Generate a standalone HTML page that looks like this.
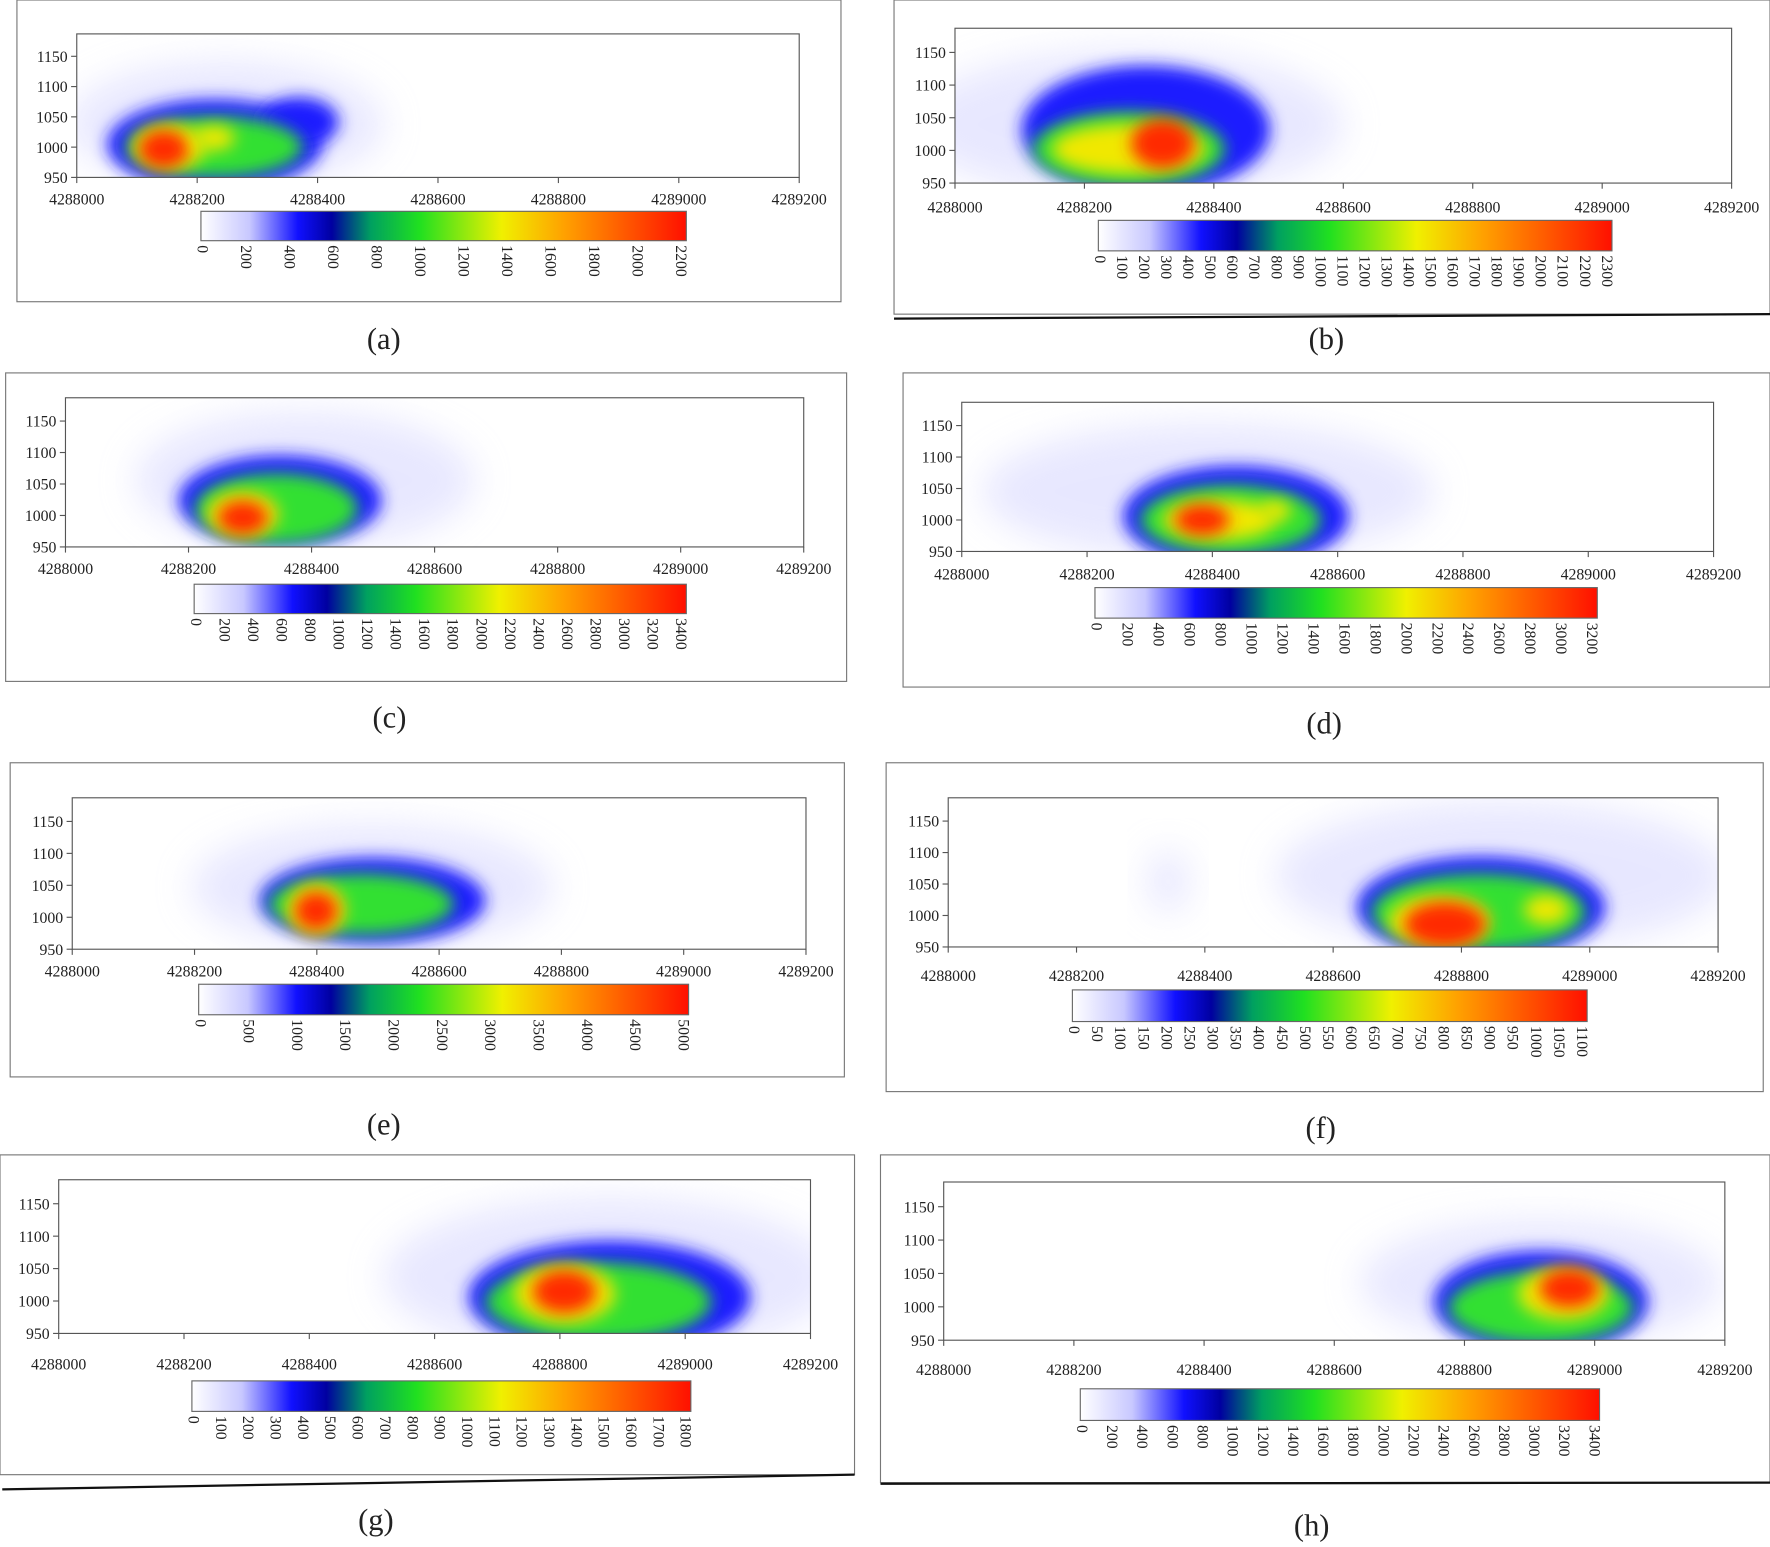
<!DOCTYPE html>
<html><head><meta charset="utf-8"><style>
html,body{margin:0;padding:0;background:#fff;}
svg{display:block;}
text{font-family:"Liberation Serif",serif;fill:#222;}
</style></head><body>
<svg id="s" width="1770" height="1547" viewBox="0 0 1568 1369" preserveAspectRatio="none" xmlns="http://www.w3.org/2000/svg">
<defs>
<linearGradient id="cb" x1="0" x2="1" y1="0" y2="0">
<stop offset="0" stop-color="#ffffff"/>
<stop offset="0.1" stop-color="#c8c8ff"/>
<stop offset="0.2" stop-color="#1010ff"/>
<stop offset="0.27" stop-color="#0000a0"/>
<stop offset="0.35" stop-color="#00a060"/>
<stop offset="0.45" stop-color="#20e020"/>
<stop offset="0.62" stop-color="#f0f000"/>
<stop offset="0.75" stop-color="#ffa000"/>
<stop offset="1" stop-color="#ff1000"/>
</linearGradient>
<filter id="b1" x="-50%" y="-50%" width="200%" height="200%"><feGaussianBlur stdDeviation="16"/></filter>
<filter id="b2" x="-50%" y="-50%" width="200%" height="200%"><feGaussianBlur stdDeviation="7"/></filter>
</defs>
</svg>
<script>
var s=document.getElementById('s'),o='';
var C={h:'#d0d0ff',b:'#1a1aff',g:'#30e030',y:'#f0e800',r:'#ff2a00'};
var P=[
{f:[15,0,745,267],p:[68,30,708,157],xl:176,cb:[178,187,608,213],cap:[340,300,'(a)'],t:[0,2200,200],
bl:[['h',200,110,140,55],['b',190,128,95,40],['b',265,108,35,22],['g',190,130,78,27],['y',150,130,32,20],['r',145,132,22,17],['y',190,122,18,11]]},
{f:[792,0,1568,278],p:[846,25,1534,162],xl:183,cb:[973,195,1428,222],cap:[1175,300,'(b)'],t:[0,2300,100],
bl:[['h',1000,110,190,65],['b',1015,115,110,57],['g',1000,132,85,33],['y',1000,132,68,22],['r',1030,127,28,22]]},
{f:[5,330,750,603],p:[58,352,712,484],xl:503,cb:[172,517,608,543],cap:[345,635,'(c)'],t:[0,3400,200],
bl:[['h',270,425,150,60],['b',248,443,90,40],['g',245,450,72,31],['y',215,455,32,20],['r',215,458,22,15]]},
{f:[800,330,1568,608],p:[852,356,1518,488],xl:508,cb:[970,520,1415,547],cap:[1173,640,'(d)'],t:[0,3200,200],
bl:[['h',1070,435,200,60],['b',1095,457,100,45],['g',1090,460,80,31],['y',1080,460,50,18],['r',1065,460,24,14],['y',1130,452,14,9]]},
{f:[9,675,748,953],p:[64,706,714,840],xl:859,cb:[176,871,610,898],cap:[340,995,'(e)'],t:[0,5000,500],
bl:[['h',330,785,160,55],['b',330,797,100,38],['g',320,800,82,27],['y',280,805,26,23],['r',280,806,19,17]]},
{f:[785,675,1562,966],p:[840,706,1522,838],xl:863,cb:[950,876,1406,904],cap:[1170,998,'(f)'],t:[0,1100,50],
bl:[['h',1330,775,200,65],['h',1035,780,18,28],['b',1312,803,110,45],['g',1310,807,95,34],['y',1275,815,45,23],['r',1280,818,36,20],['y',1370,805,20,13]]},
{f:[0,1022,757,1305],p:[52,1044,718,1180],xl:1207,cb:[170,1222,612,1249],cap:[333,1345,'(g)'],t:[0,1800,100],
bl:[['h',540,1130,200,70],['b',540,1148,125,50],['g',530,1152,100,35],['y',500,1145,45,26],['r',500,1143,28,19]]},
{f:[780,1022,1568,1312],p:[836,1046,1528,1186],xl:1212,cb:[957,1229,1417,1257],cap:[1162,1350,'(h)'],t:[0,3400,200],
bl:[['h',1365,1135,160,55],['b',1365,1152,95,45],['g',1365,1157,82,32],['y',1385,1145,40,23],['r',1390,1140,26,17]]}
];
P.forEach(function(q,i){
var f=q.f,p=q.p;
o+='<rect x="'+f[0]+'" y="'+f[1]+'" width="'+(f[2]-f[0])+'" height="'+(f[3]-f[1])+'" fill="none" stroke="#777" stroke-width="1"/>';
o+='<clipPath id="c'+i+'"><rect x="'+p[0]+'" y="'+p[1]+'" width="'+(p[2]-p[0])+'" height="'+(p[3]-p[1])+'"/></clipPath>';
o+='<g clip-path="url(#c'+i+')">';
q.bl.forEach(function(e){o+='<ellipse cx="'+e[1]+'" cy="'+e[2]+'" rx="'+e[3]+'" ry="'+e[4]+'" fill="'+C[e[0]]+'" filter="url(#'+(e[0]=='h'?'b1':'b2')+')" opacity="'+(e[0]=='h'?0.5:1)+'"/>';});
o+='</g>';
o+='<rect x="'+p[0]+'" y="'+p[1]+'" width="'+(p[2]-p[0])+'" height="'+(p[3]-p[1])+'" fill="none" stroke="#555" stroke-width="1"/>';
for(var k=0;k<7;k++){var x=p[0]+(p[2]-p[0])*k/6;
o+='<line x1="'+x+'" y1="'+p[3]+'" x2="'+x+'" y2="'+(p[3]+5)+'" stroke="#555"/>';
o+='<text x="'+x+'" y="'+(q.xl+5)+'" font-size="14" text-anchor="middle">'+(4288000+200*k)+'</text>';}
for(var v=950;v<=1150;v+=50){var y=p[3]-(v-950)/237*(p[3]-p[1]);
o+='<line x1="'+(p[0]-5)+'" y1="'+y+'" x2="'+p[0]+'" y2="'+y+'" stroke="#555"/>';
o+='<text x="'+(p[0]-8)+'" y="'+(y+5)+'" font-size="14" text-anchor="end">'+v+'</text>';}
var c=q.cb;
o+='<rect x="'+c[0]+'" y="'+c[1]+'" width="'+(c[2]-c[0])+'" height="'+(c[3]-c[1])+'" fill="url(#cb)" stroke="#666"/>';
var t=q.t,n=(t[1]-t[0])/t[2];
for(var k=0;k<=n;k++){var x=c[0]+2+(c[2]-c[0]-6)*k/n;
o+='<text transform="translate('+(x-5)+','+(c[3]+4)+') rotate(90)" font-size="14">'+(t[0]+k*t[2])+'</text>';}
o+='<text x="'+q.cap[0]+'" y="'+(q.cap[1]+9)+'" font-size="27" text-anchor="middle">'+q.cap[2]+'</text>';
});
o+='<line x1="792" y1="282" x2="1568" y2="278" stroke="#111" stroke-width="2"/>';
o+='<line x1="2" y1="1318" x2="757" y2="1305" stroke="#111" stroke-width="2"/>';
o+='<line x1="780" y1="1313" x2="1568" y2="1312" stroke="#111" stroke-width="2"/>';
s.insertAdjacentHTML('beforeend',o);
</script>
</body></html>
